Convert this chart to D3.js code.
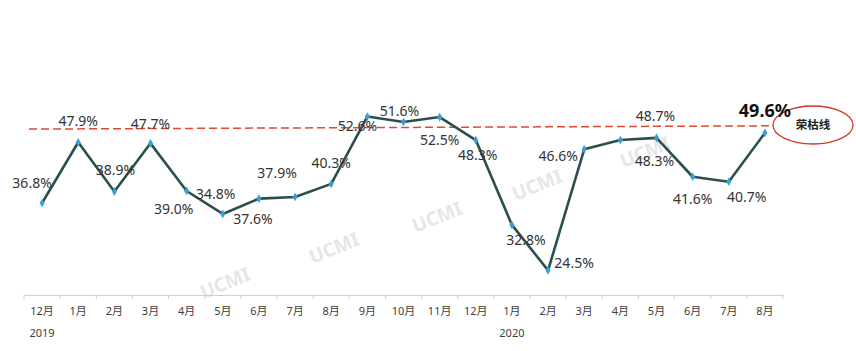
<!DOCTYPE html>
<html lang="zh">
<head>
  <meta charset="UTF-8">
  <title>PMI</title>
  <style type="text/css">
    body { margin: 0; background: #fff; }
    text { font-family: "Noto Sans", "Noto Sans CJK SC", sans-serif; }
  </style>
  <script src="https://d3js.org/d3.v7.min.js"></script>
</head>
<body>
  <svg></svg>
  <script>
    const width = 856, height = 351;

    // data
    const months = ["12月","1月","2月","3月","4月","5月","6月","7月","8月","9月","10月","11月",
                    "12月","1月","2月","3月","4月","5月","6月","7月","8月"];
    const values = [36.8, 47.9, 38.9, 47.7, 39.0, 34.8, 37.6, 37.9, 40.3, 52.6, 51.6, 52.5,
                    48.3, 32.8, 24.5, 46.6, 48.3, 48.7, 41.6, 40.7, 49.6];
    const labels = ["36.8%","47.9%","38.9%","47.7%","39.0%","34.8%","37.6%","37.9%","40.3%","52.6%","51.6%","52.5%",
                    "48.3%","32.8%","24.5%","46.6%","48.3%","48.7%","41.6%","40.7%","49.6%"];
    // label offsets from each point (dx, dy)
    const labelOffsets = [[-10,-20],[0,-21],[1,-21],[0,-19],[-13,18],[-7,-20],[-6,20],[-18,-24],[0,-21],[-10,10],[-4,-11],[0,23],
                          [2,15],[14,15],[26,-7],[-26,7],[34,21],[-1,-22],[0,22],[18,15],[0,-22]];
    const years = [{i: 0, text: "2019"}, {i: 13, text: "2020"}];
    const threshold = [50.3, 50.9]; // 荣枯线 (drawn from left end to right end)
    const watermarks = [[225,283],[334,248],[437,217],[537,185],[645,152]];

    const svg = d3.select("svg").attr("width", width).attr("height", height);

    const x = d3.scaleBand().domain(d3.range(months.length)).range([24, 783]);
    const y = d3.scaleLinear().domain([20, 60]).range([295, 76]);
    const cx = i => x(i) + x.bandwidth() / 2;

    // watermark
    svg.append("g").selectAll("text").data(watermarks).enter().append("text")
       .attr("transform", d => `translate(${d[0]},${d[1]}) rotate(-22)`)
       .attr("text-anchor", "middle").attr("dy", "0.35em")
       .attr("font-size", 19).attr("font-weight", "bold")
       .attr("fill", "#e6e6e6")
       .text("UCMI");

    // x axis
    const xAxis = d3.axisBottom(x).tickSize(0).tickFormat(i => months[i]);
    const gx = svg.append("g").attr("transform", "translate(0,295)").call(xAxis);
    gx.select(".domain").attr("stroke", "#cfcfcf").attr("stroke-width", 1.2);
    gx.selectAll(".tick text").attr("font-size", 11).attr("fill", "#404040").attr("dy", "1.55em");
    svg.append("g").selectAll("line").data(d3.range(months.length + 1)).enter().append("line")
       .attr("x1", i => i < months.length ? x(i) : x.range()[1])
       .attr("x2", i => i < months.length ? x(i) : x.range()[1])
       .attr("y1", 295).attr("y2", 299)
       .attr("stroke", "#cfcfcf");
    svg.append("g").selectAll("text").data(years).enter().append("text")
       .attr("x", d => cx(d.i)).attr("y", 337)
       .attr("text-anchor", "middle").attr("font-size", 11).attr("fill", "#404040")
       .text(d => d.text);

    // 荣枯线
    svg.append("line")
       .attr("x1", 29).attr("x2", 772)
       .attr("y1", y(threshold[0])).attr("y2", y(threshold[1]))
       .attr("stroke", "#e04a32").attr("stroke-width", 1.5)
       .attr("stroke-dasharray", "8,4");
    svg.append("ellipse")
       .attr("cx", 813).attr("cy", 125).attr("rx", 40).attr("ry", 19)
       .attr("fill", "none").attr("stroke", "#d0392b").attr("stroke-width", 1.3);
    svg.append("text")
       .attr("x", 813).attr("y", 125).attr("dy", "0.35em")
       .attr("text-anchor", "middle").attr("font-size", 11.5).attr("font-weight", "bold")
       .attr("fill", "#222")
       .style("font-family", '"Noto Sans CJK SC", sans-serif')
       .text("荣枯线");

    // line
    const line = d3.line().x((d, i) => cx(i)).y(d => y(d));
    svg.append("path").datum(values)
       .attr("fill", "none").attr("stroke", "#2c4e4f").attr("stroke-width", 2.6)
       .attr("stroke-linejoin", "round")
       .attr("d", line);

    svg.append("g").selectAll("path").data(values).enter().append("path")
       .attr("d", d3.symbol(d3.symbolDiamond, 22))
       .attr("transform", (d, i) => `translate(${cx(i)},${y(d)})`)
       .attr("fill", "#3a9fd6");

    // labels
    svg.append("g").selectAll("text").data(values).enter().append("text")
       .attr("x", (d, i) => cx(i) + labelOffsets[i][0])
       .attr("y", (d, i) => y(d) + labelOffsets[i][1])
       .attr("dy", "0.35em")
       .attr("text-anchor", "middle")
       .attr("font-size", (d, i) => i === values.length - 1 ? 18 : 14)
       .attr("font-weight", (d, i) => i === values.length - 1 ? "bold" : "normal")
       .attr("fill", (d, i) => i === values.length - 1 ? "#111" : "#333")
       .text((d, i) => labels[i]);
  </script>
</body>
</html>
